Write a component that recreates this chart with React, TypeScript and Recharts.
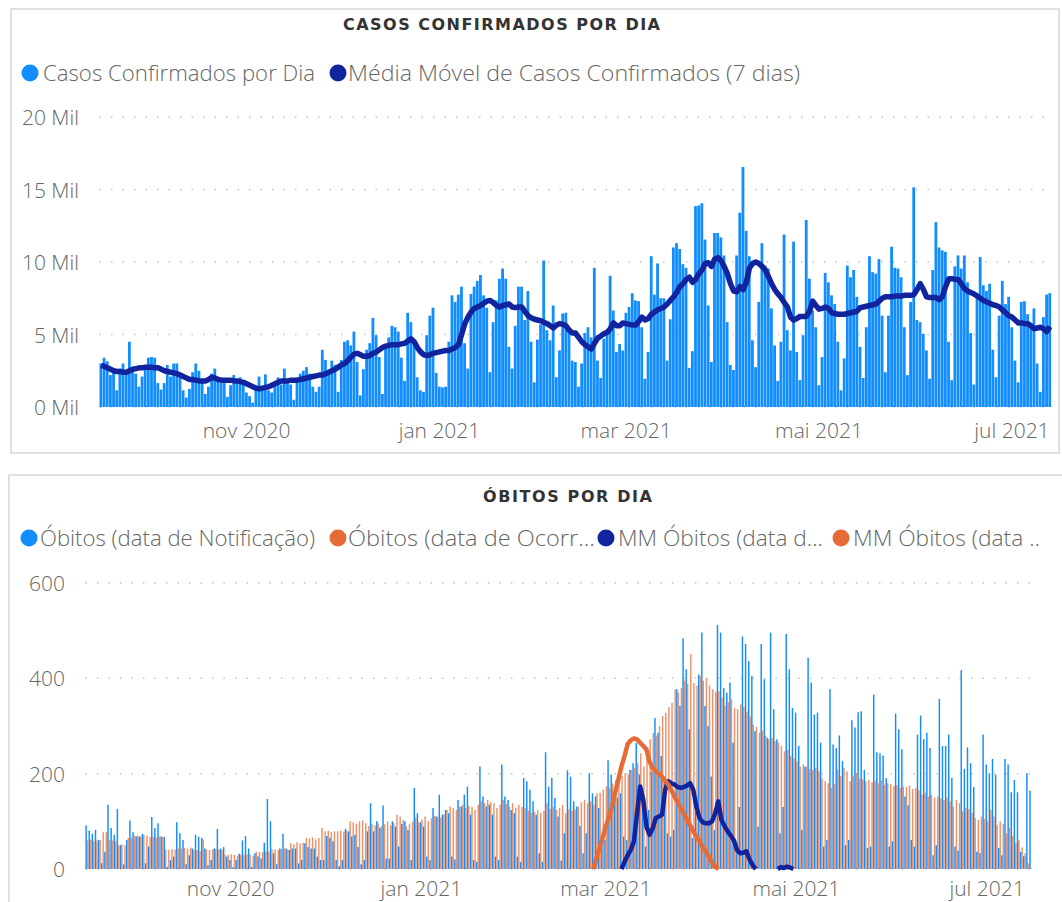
import React from 'react';
import { ComposedChart, Bar, Line, XAxis, YAxis, CartesianGrid } from 'recharts';

// daily axis: 16 set 2020 -> 15 jul 2021
const START = Date.UTC(2020, 8, 16);
const DAYS = 303;
const dates = Array.from({ length: DAYS }, (_, i) => new Date(START + i * 86400000).toISOString().slice(0, 10));
const tickDates = ['2020-11-01', '2021-01-01', '2021-03-01', '2021-05-01', '2021-07-01'];
const MESES = ['jan', 'fev', 'mar', 'abr', 'mai', 'jun', 'jul', 'ago', 'set', 'out', 'nov', 'dez'];

// casos confirmados por dia (Mil)
const casos = [
  3.0, 3.4, 3.15, 2.2, 2.4, 1.15, 2.65, 3.0, 2.3, 4.5,
  2.75, 2.3, 1.4, 2.1, 2.75, 3.4, 3.45, 3.4, 1.65, 1.2,
  1.65, 2.9, 2.1, 3.0, 3.0, 2.1, 1.15, 0.65, 1.25, 2.4,
  3.0, 2.5, 1.7, 0.9, 1.4, 2.3, 2.65, 2.05, 1.65, 1.65,
  0.7, 1.5, 2.2, 1.85, 2.05, 1.7, 1.0, 0.75, 0.3, 1.4,
  2.1, 1.4, 2.25, 1.15, 1.0, 1.7, 2.05, 1.55, 2.65, 1.65,
  1.55, 0.5, 1.85, 2.3, 2.5, 2.75, 2.3, 1.4, 1.05, 1.4,
  3.95, 3.25, 2.3, 3.2, 2.9, 1.05, 3.25, 4.5, 4.6, 4.25,
  5.2, 3.1, 0.8, 2.6, 3.95, 4.4, 6.15, 4.95, 3.45, 0.9,
  4.25, 4.8, 5.6, 5.5, 5.2, 3.4, 1.8, 6.5, 5.85, 4.5,
  2.05, 1.15, 1.05, 4.95, 6.3, 6.85, 2.35, 1.4, 1.35, 1.4,
  4.5, 7.7, 7.25, 7.75, 8.3, 4.4, 2.65, 7.8, 8.3, 8.7,
  9.1, 7.7, 6.85, 2.4, 5.85, 7.35, 8.85, 9.55, 8.85, 4.15,
  2.65, 5.6, 8.3, 8.3, 6.0, 8.0, 4.5, 1.7, 4.65, 5.7,
  10.1, 5.3, 4.6, 7.0, 2.05, 3.9, 6.45, 6.5, 5.3, 3.2,
  3.1, 1.4, 3.0, 5.1, 5.5, 4.8, 9.6, 3.2, 2.0, 4.7,
  5.05, 9.05, 6.65, 3.8, 4.35, 3.9, 6.5, 6.9, 7.85, 7.35,
  7.3, 5.5, 1.95, 3.8, 10.4, 7.75, 9.9, 7.5, 7.5, 3.2,
  6.05, 11.0, 11.3, 10.9, 9.85, 9.6, 2.7, 3.85, 13.85, 13.9,
  14.05, 11.55, 7.0, 3.1, 12.0, 12.0, 11.7, 10.45, 5.85, 2.9,
  2.55, 10.45, 13.4, 16.55, 12.15, 10.4, 4.6, 2.75, 7.25, 11.3,
  9.75, 9.55, 6.8, 4.25, 1.8, 4.5, 11.9, 5.3, 3.9, 11.4,
  3.8, 1.85, 4.95, 12.9, 8.85, 6.65, 5.5, 1.5, 3.45, 9.25,
  8.6, 7.7, 7.1, 4.5, 1.15, 3.35, 9.75, 8.95, 9.45, 7.6,
  4.15, 2.0, 5.5, 10.4, 9.3, 9.2, 10.2, 6.3, 2.4, 6.3,
  11.05, 9.6, 9.55, 8.95, 5.5, 2.2, 7.25, 15.15, 6.0, 5.85,
  5.05, 3.9, 1.95, 9.45, 12.75, 11.0, 10.8, 10.7, 4.5, 1.85,
  9.7, 10.45, 9.55, 10.45, 8.6, 5.1, 1.55, 7.8, 10.35, 8.4,
  8.0, 8.5, 3.95, 2.05, 6.3, 8.7, 7.1, 7.6, 5.5, 3.2,
  1.7, 7.25, 7.3, 6.4, 5.5, 6.8, 3.0, 1.05, 6.2, 7.75,
  7.85,
];

// média móvel de 7 dias (Mil)
const mediaMovel = [
  2.87, 2.8, 2.7, 2.6, 2.5, 2.45, 2.45, 2.4, 2.4, 2.5,
  2.6, 2.65, 2.7, 2.7, 2.75, 2.75, 2.75, 2.7, 2.7, 2.6,
  2.5, 2.45, 2.4, 2.35, 2.3, 2.2, 2.1, 2.0, 1.9, 1.9,
  1.85, 1.8, 1.8, 1.8, 1.9, 2.05, 2.0, 1.9, 1.85, 1.85,
  1.85, 1.85, 1.8, 1.8, 1.75, 1.7, 1.6, 1.5, 1.4, 1.3,
  1.25, 1.3, 1.35, 1.4, 1.5, 1.6, 1.7, 1.8, 1.8, 1.8,
  1.85, 1.85, 1.85, 1.9, 1.95, 2.0, 2.05, 2.1, 2.15, 2.2,
  2.2, 2.3, 2.4, 2.5, 2.6, 2.75, 2.9, 3.0, 3.2, 3.45,
  3.65, 3.7, 3.6, 3.5, 3.5, 3.55, 3.7, 3.8, 3.95, 4.1,
  4.2, 4.25, 4.3, 4.3, 4.3, 4.35, 4.4, 4.55, 4.7, 4.5,
  4.1, 3.8, 3.6, 3.55, 3.6, 3.7, 3.75, 3.8, 3.85, 3.9,
  3.9, 4.0, 4.1, 4.3, 5.0, 5.75, 6.2, 6.55, 6.8, 6.9,
  7.0, 7.15, 7.3, 7.35, 7.2, 7.0, 6.9, 7.0, 7.05, 7.1,
  6.9, 6.85, 6.9, 6.9, 6.6, 6.3, 6.15, 6.05, 6.0, 5.95,
  5.85, 5.75, 5.6, 5.45, 5.65, 5.75, 5.7, 5.6, 5.3, 5.1,
  5.1, 4.8, 4.5, 4.3, 4.15, 4.0, 4.4, 4.75, 4.9, 5.05,
  5.15, 5.4, 5.8, 5.6, 5.6, 5.8, 5.75, 5.7, 5.65, 5.65,
  5.9, 6.2, 6.0, 6.1, 6.4, 6.55, 6.7, 6.8, 6.9, 7.1,
  7.35, 7.6, 7.9, 8.3, 8.5, 8.8, 8.95, 8.6, 8.8, 9.2,
  9.45, 9.9, 9.95, 9.7, 10.2, 10.3, 10.1, 9.7, 9.2, 8.5,
  8.0, 7.95, 8.3, 8.1, 8.6, 9.6, 9.9, 10.0, 9.9, 9.7,
  9.45, 9.0, 8.5, 8.1, 7.8, 7.55, 7.2, 6.9, 6.2, 6.0,
  6.1, 6.25, 6.25, 6.25, 6.6, 7.3, 7.0, 6.75, 6.8, 6.9,
  6.8, 6.5, 6.45, 6.4, 6.4, 6.4, 6.45, 6.5, 6.55, 6.6,
  6.85, 6.9, 6.95, 7.0, 7.05, 7.1, 7.3, 7.5, 7.6, 7.6,
  7.6, 7.65, 7.65, 7.65, 7.7, 7.7, 7.7, 7.75, 8.1, 8.5,
  8.1, 7.6, 7.55, 7.55, 7.55, 7.4, 7.6, 8.3, 8.85, 8.85,
  8.8, 8.8, 8.5, 8.15, 8.0, 7.9, 7.8, 7.65, 7.5, 7.35,
  7.25, 7.15, 7.05, 7.0, 6.9, 6.7, 6.5, 6.3, 6.2, 6.0,
  5.8, 5.8, 5.75, 5.75, 5.6, 5.4, 5.45, 5.5, 5.4, 5.2,
  5.55,
];

// óbitos por data de notificação
const obitosNotif = [
  91, 81, 74, 82, 61, 12, 36, 135, 86, 72,
  126, 50, 10, 61, 102, 77, 68, 68, 74, 12,
  47, 109, 86, 96, 68, 67, 4, 19, 26, 98,
  75, 61, 10, 29, 43, 72, 68, 65, 43, 8,
  19, 43, 84, 43, 46, 26, 19, 4, 19, 32,
  60, 69, 43, 4, 33, 27, 22, 55, 147, 100,
  33, 10, 43, 74, 43, 40, 43, 43, 12, 19,
  54, 46, 43, 43, 26, 19, 19, 69, 65, 58,
  19, 6, 19, 84, 79, 68, 72, 46, 10, 19,
  79, 138, 79, 100, 86, 133, 22, 22, 100, 89,
  47, 95, 100, 82, 19, 170, 117, 98, 89, 26,
  19, 128, 110, 156, 114, 124, 117, 26, 20, 145,
  131, 156, 173, 114, 19, 15, 215, 152, 131, 135,
  114, 26, 19, 219, 152, 145, 124, 117, 26, 15,
  191, 184, 166, 142, 114, 33, 15, 245, 173, 191,
  149, 110, 18, 75, 207, 194, 142, 131, 90, 33,
  75, 201, 159, 152, 128, 47, 61, 228, 198, 166,
  150, 159, 68, 61, 208, 222, 265, 198, 170, 47,
  124, 205, 317, 286, 237, 194, 75, 68, 82, 377,
  342, 484, 419, 293, 65, 120, 408, 496, 342, 300,
  194, 82, 512, 496, 380, 370, 391, 265, 54, 130,
  488, 472, 436, 405, 289, 89, 472, 398, 275, 496,
  335, 272, 75, 130, 493, 419, 338, 328, 258, 82,
  215, 443, 391, 324, 328, 265, 47, 61, 377, 261,
  254, 280, 226, 50, 61, 312, 297, 329, 331, 208,
  44, 47, 366, 245, 243, 238, 191, 47, 58, 326,
  293, 251, 152, 133, 61, 47, 282, 322, 272, 286,
  254, 29, 50, 357, 258, 258, 282, 191, 47, 39,
  417, 210, 255, 222, 172, 36, 33, 282, 219, 201,
  231, 198, 44, 29, 231, 219, 161, 187, 161, 36,
  27, 201, 164,
];

// óbitos por data de ocorrência
const obitosOcorr = [
  60, 62, 58, 60, 61, 77, 77, 60, 60, 58,
  50, 52, 50, 65, 65, 70, 70, 68, 72, 70,
  67, 67, 66, 68, 68, 41, 40, 42, 41, 43,
  43, 44, 43, 45, 40, 40, 38, 62, 41, 40,
  41, 42, 41, 40, 30, 30, 31, 30, 28, 30,
  30, 31, 30, 28, 36, 36, 35, 37, 36, 41,
  41, 40, 42, 43, 41, 54, 52, 56, 54, 55,
  65, 64, 66, 62, 65, 86, 79, 80, 78, 79,
  79, 80, 78, 80, 100, 98, 95, 100, 102, 96,
  90, 95, 92, 96, 90, 94, 100, 92, 96, 114,
  110, 103, 89, 95, 100, 108, 98, 104, 110, 100,
  106, 112, 110, 108, 115, 124, 131, 128, 124, 130,
  135, 128, 132, 130, 124, 135, 142, 138, 145, 140,
  138, 128, 135, 145, 136, 130, 138, 128, 135, 130,
  128, 122, 117, 120, 124, 118, 122, 138, 126, 130,
  124, 128, 135, 117, 126, 122, 125, 131, 140, 145,
  138, 142, 135, 159, 160, 166, 173, 170, 180, 186,
  190, 195, 201, 198, 208, 212, 222, 243, 215, 240,
  272, 286, 280, 300, 321, 328, 340, 349, 377, 370,
  380, 395, 388, 451, 390, 385, 405, 395, 400, 385,
  377, 372, 373, 360, 342, 350, 356, 338, 335, 345,
  340, 330, 320, 303, 298, 286, 290, 279, 272, 275,
  268, 265, 258, 247, 250, 237, 232, 226, 215, 220,
  215, 210, 208, 212, 205, 190, 184, 180, 170, 178,
  208, 195, 212, 205, 184, 196, 201, 190, 188, 184,
  187, 182, 185, 180, 186, 177, 180, 178, 174, 176,
  170, 173, 172, 175, 168, 170, 165, 156, 160, 152,
  155, 150, 152, 148, 145, 150, 142, 131, 145, 138,
  121, 128, 126, 118, 107, 103, 110, 105, 100, 124,
  110, 93, 100, 95, 75, 86, 70, 54, 60, 45,
  33, 12, 1,
];

// médias móveis de óbitos (só existem em trechos)
const MM_NOTIF_START = 171;
const mmNotif = [
  0, 15, 29, 40, 58, 117, 173, 145, 89, 72,
  85, 107, 110, 114, 166, 184, 180, 177, 172, 170,
  172, 175, 180, 166, 130, 107, 98, 96, 96, 100,
  117, 142, 103, 90, 79, 70, 60, 40, 33, 34,
  37, 20, 8, 0,
];
const MM_NOTIF2_START = 221;
const mmNotif2 = [0, 4, 2, 5, 3, 0];
const MM_OCORR_START = 162;
const mmOcorr = [
  0, 22, 44, 66, 89, 110, 131, 160, 187, 215,
  237, 262, 270, 274, 272, 265, 258, 251, 225, 212,
  205, 200, 194, 185, 177, 165, 152, 140, 128, 116,
  103, 91, 79, 68, 58, 46, 36, 26, 14, 5,
  0,
];

const pick = (arr: number[], start: number, i: number) =>
  i >= start && i < start + arr.length ? arr[i - start] : null;

const topData = casos.map((v, i) => ({ date: dates[i], casos: v, mm: mediaMovel[i] }));
const bottomData = dates.map((d, i) => ({
  date: d,
  notif: obitosNotif[i],
  ocorr: obitosOcorr[i],
  mmNotif: pick(mmNotif, MM_NOTIF_START, i) ?? pick(mmNotif2, MM_NOTIF2_START, i),
  mmOcorr: pick(mmOcorr, MM_OCORR_START, i),
}));

const FONT = "'Open Sans', 'Noto Sans', sans-serif";
const TITLE_FONT = "'DejaVu Sans', sans-serif";
const AZUL = '#118DFF';
const AZUL_ESCURO = '#12239E';
const LARANJA = '#E66C37';
const TEXTO = '#666666';

const fmtMes = (d: string) => `${MESES[Number(d.slice(5, 7)) - 1]} ${d.slice(0, 4)}`;

const tickX = (baseY: number) => (props: any) => (
  <text x={props.x} y={baseY} textAnchor="middle" fontSize={21} fontFamily={FONT} fontWeight={300} fill={TEXTO}>
    {fmtMes(props.payload.value)}
  </text>
);

const tickY = (endX: number, fmt: (v: number) => string) => (props: any) => (
  <text x={endX} y={props.y + 8} textAnchor="end" fontSize={21} fontFamily={FONT} fontWeight={300} fill={TEXTO}>
    {fmt(props.payload.value)}
  </text>
);

function LegendItem({ cx, cy, color, tx, w, label }: any) {
  return (
    <g>
      <circle cx={cx} cy={cy} r={8.5} fill={color} />
      <text x={tx} y={cy + 7.5} fontSize={22} fontFamily={FONT} fontWeight={300} fill={TEXTO}
        textLength={w} lengthAdjust="spacingAndGlyphs">{label}</text>
    </g>
  );
}

export default function App() {
  return (
    <div style={{ position: 'absolute', left: 0, top: 0, width: 1062, height: 902, overflow: 'hidden', background: '#fff' }}>
      {/* panel borders */}
      <div style={{ position: 'absolute', left: 10, top: 8, width: 1046, height: 442, border: '2px solid #e1e1e1' }} />
      <div style={{ position: 'absolute', left: 8, top: 474, width: 1200, height: 500, border: '2px solid #e1e1e1' }} />

      <div style={{ position: 'absolute', left: 0, top: 0 }}>
        <ComposedChart width={1062} height={460} data={topData}
          margin={{ top: 117, right: 10.5, bottom: 13, left: 0 }} barGap={0}>
          <CartesianGrid vertical={false} stroke="#c4c4c4" strokeWidth={1.5} strokeDasharray="1.5 10" />
          <XAxis dataKey="date" ticks={tickDates} interval={0} axisLine={false} tickLine={false}
            height={40} tick={tickX(438)} />
          <YAxis domain={[0, 20]} ticks={[0, 5, 10, 15, 20]} width={99.5} axisLine={false} tickLine={false}
            tick={tickY(79, v => `${v} Mil`)} />
          <Bar dataKey="casos" fill={AZUL} barSize={2.8} isAnimationActive={false} />
          <Line dataKey="mm" type="linear" stroke={AZUL_ESCURO} strokeWidth={5.5} strokeLinejoin="round"
            dot={false} activeDot={false} isAnimationActive={false} />
        </ComposedChart>
      </div>

      <div style={{ position: 'absolute', left: 0, top: 460 }}>
        <ComposedChart width={1062} height={442} data={bottomData}
          margin={{ top: 123, right: 29.6, bottom: 0, left: 0 }} barGap={0}>
          <CartesianGrid vertical={false} stroke="#c4c4c4" strokeWidth={1.5} strokeDasharray="1.5 10" />
          <XAxis dataKey="date" ticks={tickDates} interval={0} axisLine={false} tickLine={false}
            height={33} tick={tickX(436)} />
          <YAxis domain={[0, 600]} ticks={[0, 200, 400, 600]} width={85.4} axisLine={false} tickLine={false}
            tick={tickY(65, v => `${v}`)} />
          <Bar dataKey="notif" fill={AZUL} barSize={1.45} isAnimationActive={false} />
          <Bar dataKey="ocorr" fill={LARANJA} fillOpacity={0.75} barSize={1.45} isAnimationActive={false} />
          <Line dataKey="mmNotif" type="linear" stroke={AZUL_ESCURO} strokeWidth={4.5} strokeLinejoin="round"
            dot={false} activeDot={false} connectNulls={false} isAnimationActive={false} />
          <Line dataKey="mmOcorr" type="linear" stroke={LARANJA} strokeWidth={4.5} strokeLinejoin="round"
            dot={false} activeDot={false} connectNulls={false} isAnimationActive={false} />
        </ComposedChart>
      </div>

      {/* titles and legends */}
      <svg width={1062} height={902} style={{ position: 'absolute', left: 0, top: 0, pointerEvents: 'none' }}>
        <text x={343} y={29.5} fontSize={16} fontWeight={700} fontFamily={TITLE_FONT} fill="#333"
          textLength={317} lengthAdjust="spacing">CASOS CONFIRMADOS POR DIA</text>
        <LegendItem cx={30} cy={73} color={AZUL} tx={43} w={272} label="Casos Confirmados por Dia" />
        <LegendItem cx={338} cy={73} color={AZUL_ESCURO} tx={348} w={452} label="Média Móvel de Casos Confirmados (7 dias)" />

        <text x={483} y={502} fontSize={16} fontWeight={700} fontFamily={TITLE_FONT} fill="#333"
          textLength={169} lengthAdjust="spacing">ÓBITOS POR DIA</text>
        <LegendItem cx={29} cy={538} color={AZUL} tx={40} w={275} label="Óbitos (data de Notificação)" />
        <LegendItem cx={338} cy={538} color={LARANJA} tx={348} w={247} label="Óbitos (data de Ocorr..." />
        <LegendItem cx={606} cy={538} color={AZUL_ESCURO} tx={618} w={205} label="MM Óbitos (data d..." />
        <LegendItem cx={841} cy={538} color={LARANJA} tx={853} w={187} label="MM Óbitos (data .." />
      </svg>
    </div>
  );
}
